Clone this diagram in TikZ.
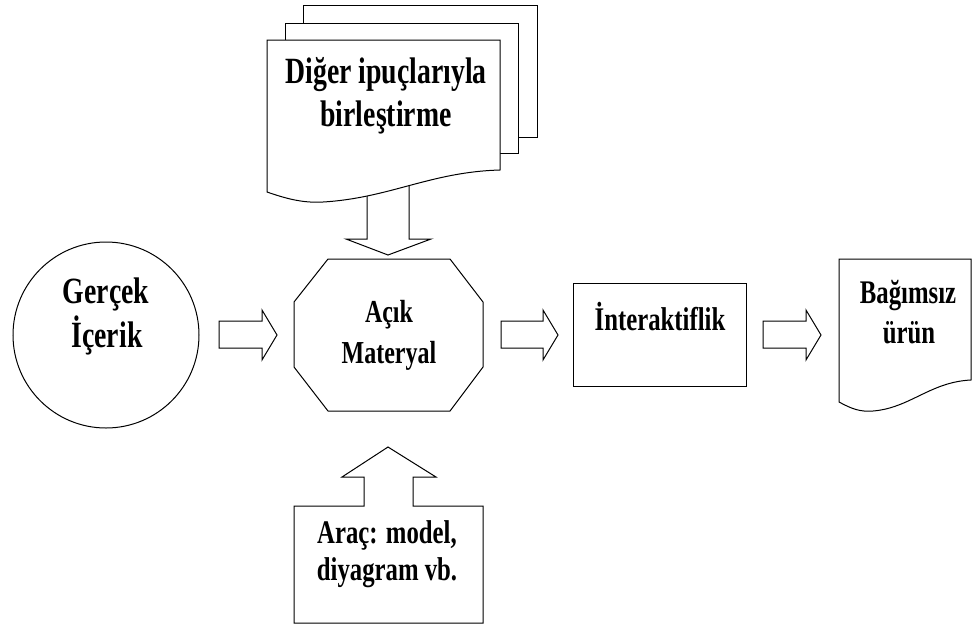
\documentclass[tikz,border=0pt]{standalone}
\usepackage{fontspec}
\newfontfamily\tfont{Liberation Serif}[FakeStretch=0.75]
\tikzset{
  shp/.style={draw=black, line width=1pt, fill=white, line join=miter},
  lbl/.style={anchor=base, inner sep=0pt, font=\tfont\bfseries\fontsize{#1}{#1}\selectfont},
}
\begin{document}
\begin{tikzpicture}[x=1pt,y=-1pt]
\useasboundingbox (0,0) rectangle (975,633);
% stacked documents
\draw[shp] (303,5) rectangle (537,137);
\draw[shp] (285,23) rectangle (518,153);
% down block arrow (under front document)
\draw[shp] (367,185) -- (367,239) -- (346,239) -- (388,255) -- (431,239) -- (409,239) -- (409,185);
\draw[shp] (267,40) -- (500,40) -- (500,170)
  .. controls (430,172) and (390,198) .. (323,202)
  .. controls (305,203) and (290,200) .. (267,192) -- cycle;
\node[lbl=37] (d1) at (386,83) {Diğer ipuçlarıyla};
\node[lbl=37] (d2) at (386,126) {birleştirme};
% circle
\draw[shp] (106,335) circle[radius=93];
\node[lbl=37] (g1) at (106,303) {Gerçek};
\node[lbl=37] (g2) at (107,347) {İçerik};
% arrow 1
\draw[shp] (219,321) -- (262,321) -- (262,310) -- (277,335) -- (262,360) -- (262,348) -- (219,348) -- cycle;
% octagon
\draw[shp] (328,259) -- (450,259) -- (483,302) -- (483,367) -- (450,411) -- (328,411) -- (294,367) -- (294,302) -- cycle;
\node[lbl=32] (m1) at (389,322) {Açık};
\node[lbl=32] (m2) at (389,363) {Materyal};
% arrow 2
\draw[shp] (501,321) -- (543,321) -- (543,310) -- (558,335) -- (543,360) -- (543,348) -- (501,348) -- cycle;
% interaktiflik
\draw[shp] (573,283) rectangle (746,386);
\node[lbl=33] (i1) at (660,330) {İnteraktiflik};
% arrow 3
\draw[shp] (763,321) -- (806,321) -- (806,310) -- (821,335) -- (806,360) -- (806,348) -- (763,348) -- cycle;
% bagimsiz urun document
\draw[shp] (839,259) -- (971,259) -- (971,380)
  .. controls (930,382) and (910,408) .. (873,411)
  .. controls (860,412) and (852,409) .. (839,402) -- cycle;
\node[lbl=33] (b1) at (908,303) {Bağımsız};
\node[lbl=33] (b2) at (909,343) {ürün};
% bottom box with up arrow
\draw[shp] (364,506) -- (294,506) -- (294,623) -- (483,623) -- (483,506) -- (413,506) -- (413,477) -- (436,477) -- (388,447) -- (342,477) -- (364,477) -- cycle;
\node[lbl=33] (a1) at (387,543) {Araç: model,};
\node[lbl=33] (a2) at (387,580) {diyagram vb.};
\end{tikzpicture}
\end{document}
